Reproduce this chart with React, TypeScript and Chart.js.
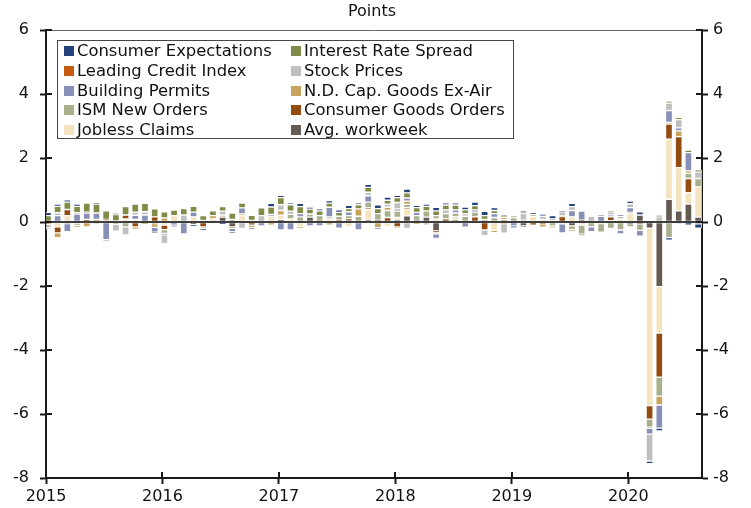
import { useEffect, useRef } from 'react';
import { Chart, registerables } from 'chart.js';

Chart.register(...registerables);

// ---- categories / ticks ----
const years = ['2015', '2016', '2017', '2018', '2019', '2020'];
const yearTickMonths = [0, 12, 24, 36, 48, 60];
const monthNames = ['Jan', 'Feb', 'Mar', 'Apr', 'May', 'Jun', 'Jul', 'Aug', 'Sep', 'Oct', 'Nov', 'Dec'];
const categories: string[] = [];
for (const y of years) for (const m of monthNames) categories.push(`${m} ${y}`);
categories.length = 68; // Jan 2015 .. Aug 2020
const yTicks = [-8, -6, -4, -2, 0, 2, 4, 6];

// ---- series (points), Jan 2015 .. Aug 2020 ----
const avgWorkweek = [0,0,0,0,0,0,0,0,0,0,0,0, 0,0,0,-0.08,0,0,0.15,-0.15,0,0,0,0, 0.08,0,0,0.15,0,0,0,0.05,0,0.06,0.06,0, 0.06,0.19,0.05,0.15,-0.28,0,0.06,0,0,0,0,0, 0,-0.12,0,0,0,0,-0.12,0,0,0,0,0, -0.05,0.22,-0.19,-2.02,0.71,0.35,0.56,0.15];
const joblessClaims = [-0.03,-0.15,0.2,0,0,0,0.05,0.03,0.1,0.08,0,0, -0.1,0.2,0,0.16,0.05,0.1,0,0,0.2,0.05,0,0.16, 0.13,0.1,-0.14,0,0,0.1,0,-0.15,0,0.33,0,-0.14, 0.08,0.22,0,0,0.1,0,0.1,0,0,0,-0.26,0, 0,0,0.18,0.08,0.05,-0.06,0.16,-0.1,0,-0.05,0.04,0.1, 0.26,0,-5.55,-1.45,1.88,1.35,0.36,0.95];
const consumerGoodsOrders = [-0.05,-0.19,0.19,-0.03,0.08,0,0.03,0,0.12,-0.15,0,0.16, -0.14,0,0,0,-0.15,0,0,0,0,-0.1,0,0, 0,0,0,0,0.05,0,0.06,0.05,0,0.05,0,0.14, -0.15,0.04,0,0,-0.04,0.1,0,0,0.16,-0.25,0,0, 0,0,-0.1,-0.06,0,0.17,0,0.06,0,0,0.12,0, 0,-0.06,-0.42,-1.38,0.47,0.97,0.44,0];
const ismNewOrders = [0,0,-0.05,-0.08,0,0,0,-0.05,-0.15,0,0,-0.05, -0.12,0,0,0,0,0,0,0.08,0,0,0,0, 0,0.14,0.16,0.1,0.15,0.06,0.12,0.1,0.18,0.18,0.2,0.22, 0.2,0.1,0.15,0.2,0.1,0.16,0.12,0.18,0.15,0.08,0.14,0.08, 0.14,0.06,0,0,-0.12,0,-0.12,-0.28,-0.15,-0.27,-0.2,-0.25, -0.1,-0.2,-0.25,-0.59,-0.49,0,0.16,0.26];
const ndCapGoods = [-0.04,-0.15,0,-0.05,-0.15,0.08,0,-0.02,0,-0.08,-0.08,-0.12, 0.13,0,0,0,-0.06,0.1,0.07,-0.05,0.05,-0.08,0,-0.1, 0.15,0,-0.06,0,0,-0.1,0,0,0.23,0,-0.18,0.1, -0.03,0.1,-0.08,0,-0.05,0,0,0,0,0,-0.07,-0.05, 0,0,0,-0.1,-0.06,0.03,-0.04,0,0,0,0,0, 0.04,0,-0.04,-0.28,0.05,0.18,0.08,0];
const buildingPermits = [-0.05,0.2,-0.25,0.25,0.2,0.2,-0.55,0,0,0.13,0.22,-0.15, -0.04,-0.1,-0.37,0.15,0,0,0,-0.1,0.19,0,-0.12,0, -0.25,-0.25,0.1,-0.12,-0.12,0.3,-0.19,0.12,-0.25,0.2,-0.04,0, 0.07,0.1,0.1,0,-0.14,0,0.1,-0.16,0.07,0,0.12,0, -0.12,-0.05,0,0,0,-0.28,0.2,0.28,-0.15,0.18,0.06,-0.12, 0.15,-0.18,-0.18,-0.72,0.37,0.09,0.57,-0.06];
const stockPrices = [-0.06,0.09,0,0.04,0.03,-0.05,-0.05,-0.22,-0.25,0.1,0.1,0, -0.28,0,0.22,0,0,0,0.12,0,-0.2,0,0.2,0.08, 0.18,0.1,0,0,0,0,0,0,0,0.11,0,0.1, 0.2,-0.2,0,-0.1,0,0.12,0,0.08,0,-0.18,0,-0.3, 0,0.2,0,0.1,0.05,0.12,0.12,0,0.18,0,0.1,0.08, 0.12,0,-0.84,0.16,0.24,0.26,0,0.2];
const leadingCreditIndex = [0,0,0,0,0,0,0,0,0,0,0,0, 0,0,0,0,0,0,0,0,0,0,0,0, 0,0,0,0,0,0,0,0,0,0,0,0, 0,0,0,0,0,0,0,0,0,0,0,0.06, 0,0,0,0,0,0,0,0,0,0,0,0, 0,0,0,0,0,0,0,0];
const interestRateSpread = [0.2,0.2,0.23,0.2,0.28,0.28,0.27,0.2,0.26,0.25,0.26,0.25, 0.19,0.17,0.2,0.18,0.15,0.15,0.14,0.2,0.15,0.16,0.24,0.23, 0.22,0.2,0.22,0.15,0.15,0.13,0.12,0.1,0.13,0.15,0.16,0.12, 0.15,0.16,0.15,0.14,0.15,0.15,0.15,0.12,0.13,0.12,0.1,0.05, 0.05,0.05,0.06,0,0,0,0,-0.04,0,0,0.03,0, 0,0,0,0.05,0.05,0.07,0.08,0.07];
const consumerExpectations = [0.1,0.07,0.07,0.07,0,0.05,0,0.04,0,0,0,-0.03, 0,-0.05,0,-0.05,-0.04,0,-0.07,-0.03,0,-0.06,0,0.11, 0.07,0.06,0.1,0.07,0.06,0.08,0.08,0.1,0.06,0.1,0.12,0.1, 0.07,0.12,0.07,0.07,0.11,0.07,0.07,0.09,0.11,0.13,0.09,0.04, -0.06,0.05,0.06,0.07,0.1,0.03,0.1,0,0,0.02,0,0.06, 0.08,0.1,-0.08,-0.09,-0.08,-0.04,-0.1,-0.13];

// stacking order (from zero outward)
const stackSeries = [
  { label: 'Avg. workweek', data: avgWorkweek, color: '#645a52' },
  { label: 'Jobless Claims', data: joblessClaims, color: '#f3e3bf' },
  { label: 'Consumer Goods Orders', data: consumerGoodsOrders, color: '#924c12' },
  { label: 'ISM New Orders', data: ismNewOrders, color: '#a9b08d' },
  { label: 'N.D. Cap. Goods Ex-Air', data: ndCapGoods, color: '#c8a45f' },
  { label: 'Building Permits', data: buildingPermits, color: '#8790b6' },
  { label: 'Stock Prices', data: stockPrices, color: '#bfbfbf' },
  { label: 'Leading Credit Index', data: leadingCreditIndex, color: '#c55a11' },
  { label: 'Interest Rate Spread', data: interestRateSpread, color: '#7f8b46' },
  { label: 'Consumer Expectations', data: consumerExpectations, color: '#24427c' },
];
// legend order (row-major, two columns)
const legendOrder = [
  'Consumer Expectations', 'Interest Rate Spread',
  'Leading Credit Index', 'Stock Prices',
  'Building Permits', 'N.D. Cap. Goods Ex-Air',
  'ISM New Orders', 'Consumer Goods Orders',
  'Jobless Claims', 'Avg. workweek',
];
const titleText = 'Points';
const FONT = '"DejaVu Sans", Verdana, sans-serif';
const AXIS = '#1a1a1a';
const barOffset = 0.2; // bars sit just after the month boundary tick

const decor = {
  id: 'decor',
  beforeDraw(chart: any) {
    const { ctx } = chart;
    ctx.save();
    ctx.fillStyle = '#ffffff';
    ctx.fillRect(0, 0, chart.width, chart.height);
    ctx.restore();
  },
  afterDatasetsDraw(chart: any) {
    const { ctx, chartArea: a, scales } = chart;
    const y0 = Math.round(scales.y.getPixelForValue(0));
    ctx.save();
    ctx.fillStyle = '#3d3d3d';
    ctx.fillRect(a.left, y0 - 1, a.right - a.left, 2);
    // inner halves of the crossing tick marks
    ctx.fillStyle = AXIS;
    for (const v of yTicks) {
      const py = Math.round(scales.y.getPixelForValue(v));
      ctx.fillRect(a.left, py - 1, 6, 2);
      ctx.fillRect(a.right - 6, py - 1, 6, 2);
    }
    for (const v of yearTickMonths) {
      const px = Math.round(scales.x.getPixelForValue(v));
      ctx.fillRect(px - 1, a.bottom - 6, 2, 6);
    }
    ctx.restore();
  },
  afterDraw(chart: any) {
    const { ctx, chartArea: a } = chart;
    ctx.save();
    // title
    ctx.fillStyle = '#111';
    ctx.font = `16px ${FONT}`;
    ctx.textAlign = 'center';
    ctx.textBaseline = 'alphabetic';
    ctx.fillText(titleText, (a.left + a.right) / 2 - 2, 16);
    // legend
    const bx = Math.round(a.left) + 11, by = Math.round(a.top) + 10, bw = 456, bh = 98;
    ctx.strokeStyle = '#444';
    ctx.lineWidth = 1;
    ctx.strokeRect(bx + 0.5, by + 0.5, bw, bh);
    ctx.textAlign = 'left';
    ctx.font = `16.4px ${FONT}`;
    legendOrder.forEach((name, k) => {
      const s = stackSeries.find((d) => d.label === name)!;
      const col = k % 2, row = Math.floor(k / 2);
      const x = bx + 7 + col * 227;
      const y = by + 6 + row * 19.8;
      ctx.fillStyle = s.color;
      ctx.fillRect(x, Math.round(y), 10, 10);
      ctx.fillStyle = '#111';
      ctx.fillText(name, x + 13, y + 10);
    });
    ctx.restore();
  },
};

export default function App() {
  const ref = useRef<HTMLCanvasElement>(null);
  useEffect(() => {
    document.body.style.margin = '0';
    if (!ref.current) return;
    Chart.defaults.font.family = FONT;
    Chart.defaults.font.size = 16;
    Chart.defaults.color = '#111';
    const datasets = stackSeries.map((s) => ({
      label: s.label,
      data: s.data.map((v, i) => ({ x: i + barOffset, y: v === 0 ? null : v })),
      backgroundColor: s.color,
      borderColor: 'rgba(255,255,255,0.8)',
      borderWidth: 1,
      borderSkipped: false as const,
      barThickness: 7,
    }));
    const outerTicks = { display: true, drawOnChartArea: false, drawTicks: true, tickLength: 6, tickWidth: 2, tickColor: AXIS };
    const chart = new Chart(ref.current, {
      type: 'bar',
      data: { datasets: datasets as any },
      options: {
        responsive: false,
        animation: false,
        devicePixelRatio: 1,
        layout: { padding: { top: 30, left: 0, right: 0, bottom: 0 } },
        plugins: { legend: { display: false }, tooltip: { enabled: false }, title: { display: false } },
        scales: {
          x: {
            type: 'linear',
            position: 'bottom',
            stacked: true,
            offset: false,
            min: 0,
            max: 67.6,
            grid: { ...outerTicks, offset: false },
            border: { display: true, color: AXIS, width: 2 },
            afterBuildTicks: (s: any) => { s.ticks = yearTickMonths.map((v) => ({ value: v })); },
            afterFit: (s: any) => { s.height = 30; },
            ticks: {
              autoSkip: false,
              maxRotation: 0,
              padding: 3,
              callback: (v: any) => years[yearTickMonths.indexOf(Number(v))] ?? '',
            },
          },
          xTop: {
            type: 'linear',
            position: 'top',
            min: 0,
            max: 67.6,
            offset: false,
            grid: { display: false },
            border: { display: true, color: '#666666', width: 1 },
            ticks: { display: false },
            afterFit: (s: any) => { s.height = 0; },
          },
          y: {
            type: 'linear',
            position: 'left',
            stacked: true,
            min: -8,
            max: 6,
            grid: outerTicks,
            border: { display: true, color: AXIS, width: 2 },
            afterBuildTicks: (s: any) => { s.ticks = yTicks.map((v) => ({ value: v })); },
            afterFit: (s: any) => { s.width = 46; },
            ticks: { padding: 11, callback: (v: any) => String(v) },
          },
          y2: {
            type: 'linear',
            position: 'right',
            min: -8,
            max: 6,
            grid: outerTicks,
            border: { display: true, color: AXIS, width: 2 },
            afterBuildTicks: (s: any) => { s.ticks = yTicks.map((v) => ({ value: v })); },
            afterFit: (s: any) => { s.width = 49; },
            ticks: { padding: 5, callback: (v: any) => String(v) },
          },
        },
      },
      plugins: [decor],
    });
    return () => chart.destroy();
  }, []);
  return (
    <div style={{ width: 751, height: 508 }}>
      <canvas ref={ref} width={751} height={508} style={{ display: 'block', width: 751, height: 508 }} />
    </div>
  );
}
